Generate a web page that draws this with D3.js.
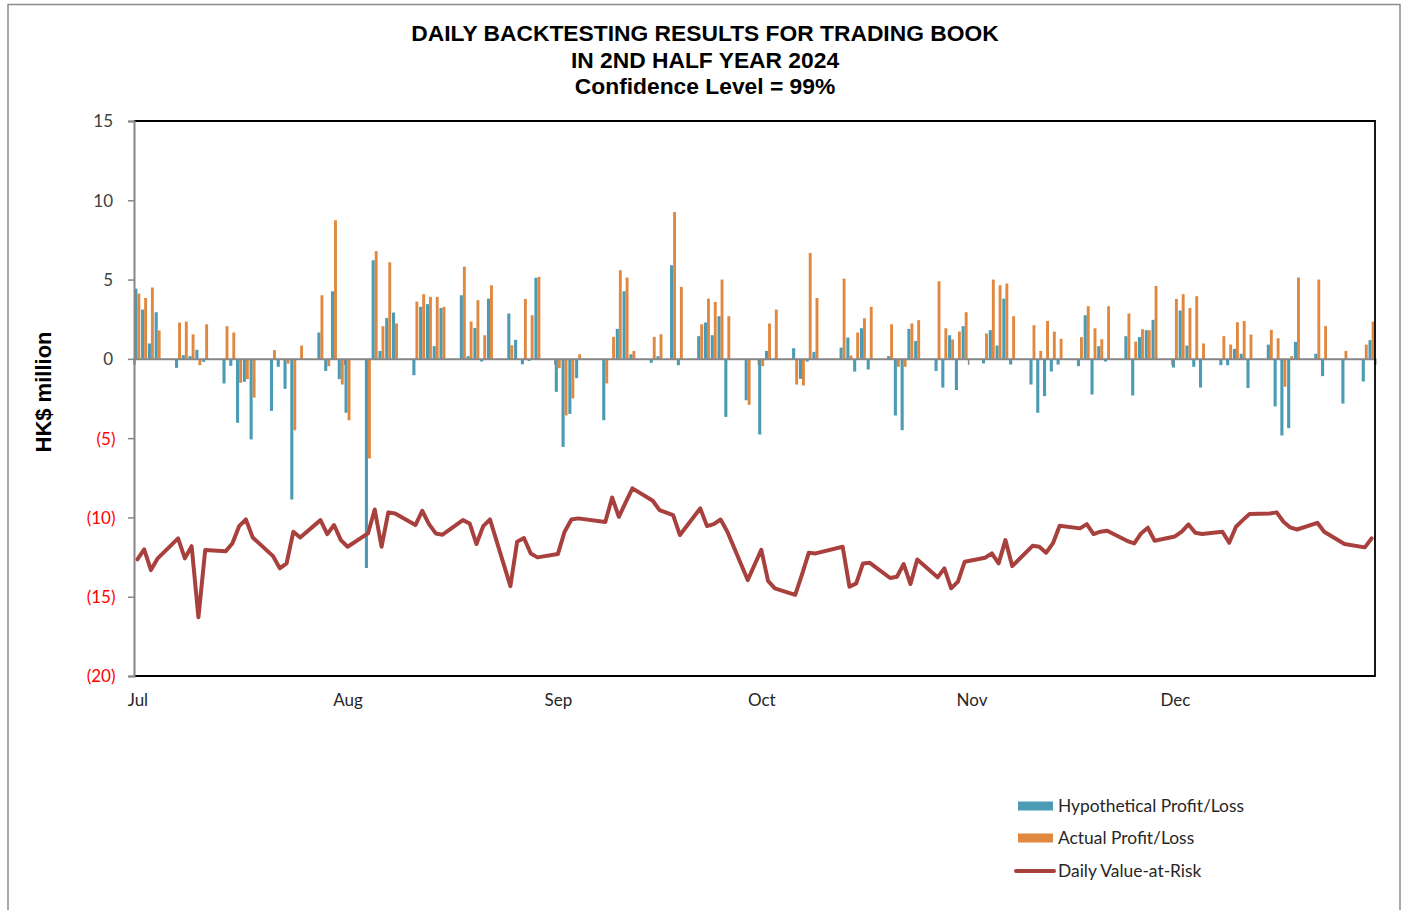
<!DOCTYPE html>
<html>
<head>
<meta charset="utf-8">
<script src="https://cdn.jsdelivr.net/npm/d3@7/dist/d3.min.js"></script>
<style>
  html, body { margin: 0; padding: 0; background: #fff; }
  svg { display: block; }
</style>
</head>
<body>
<svg id="chart" width="1407" height="910"></svg>
<script>
// ---------------- DATA ----------------
const dates = [
  "2024-07-02","2024-07-03","2024-07-04","2024-07-05","2024-07-08","2024-07-09","2024-07-10","2024-07-11","2024-07-12",
  "2024-07-15","2024-07-16","2024-07-17","2024-07-18","2024-07-19","2024-07-22","2024-07-23","2024-07-24","2024-07-25","2024-07-26",
  "2024-07-29","2024-07-30","2024-07-31","2024-08-01","2024-08-02","2024-08-05","2024-08-06","2024-08-07","2024-08-08","2024-08-09",
  "2024-08-12","2024-08-13","2024-08-14","2024-08-15","2024-08-16","2024-08-19","2024-08-20","2024-08-21","2024-08-22","2024-08-23",
  "2024-08-26","2024-08-27","2024-08-28","2024-08-29","2024-08-30","2024-09-02","2024-09-03","2024-09-04","2024-09-05",
  "2024-09-09","2024-09-10","2024-09-11","2024-09-12","2024-09-13","2024-09-16","2024-09-17","2024-09-19","2024-09-20",
  "2024-09-23","2024-09-24","2024-09-25","2024-09-26","2024-09-27","2024-09-30","2024-10-02","2024-10-03","2024-10-04",
  "2024-10-07","2024-10-08","2024-10-09","2024-10-10","2024-10-14","2024-10-15","2024-10-16","2024-10-17","2024-10-18",
  "2024-10-21","2024-10-22","2024-10-23","2024-10-24","2024-10-25","2024-10-28","2024-10-29","2024-10-30","2024-10-31","2024-11-01",
  "2024-11-04","2024-11-05","2024-11-06","2024-11-07","2024-11-08","2024-11-11","2024-11-12","2024-11-13","2024-11-14","2024-11-15",
  "2024-11-18","2024-11-19","2024-11-20","2024-11-21","2024-11-22","2024-11-25","2024-11-26","2024-11-27","2024-11-28","2024-11-29",
  "2024-12-02","2024-12-03","2024-12-04","2024-12-05","2024-12-06","2024-12-09","2024-12-10","2024-12-11","2024-12-12","2024-12-13",
  "2024-12-16","2024-12-17","2024-12-18","2024-12-19","2024-12-20","2024-12-23","2024-12-24","2024-12-27","2024-12-30","2024-12-31"
];
const hypothetical = [
  4.43,3.11,0.97,2.94,-0.57,0.23,0.17,0.57,-0.19,
  -1.55,-0.44,-4.03,-1.45,-5.08,-3.28,-0.50,-1.89,-8.87,0.00,
  1.66,-0.76,4.26,-1.28,-3.40,-13.19,6.22,0.50,2.58,2.92,
  -1.03,3.28,3.45,0.80,3.21,4.01,0.17,1.95,-0.17,3.80,
  2.86,1.20,-0.34,-0.13,5.11,-2.08,-5.55,-3.47,-1.22,
  -3.87,0.00,1.89,4.26,0.29,-0.25,0.17,5.90,-0.40,
  1.43,2.29,1.49,2.69,-3.66,-2.61,-4.77,0.50,0.00,
  0.67,-1.26,-0.17,0.44,0.71,1.34,-0.80,1.93,-0.67,
  0.17,-3.57,-4.50,1.89,1.13,-0.76,-1.81,1.49,-1.97,2.06,
  -0.29,1.81,0.84,3.80,-0.36,-1.62,-3.40,-2.35,-0.80,-0.36,
  -0.46,2.75,-2.25,0.80,-0.17,1.43,-2.31,1.37,1.81,2.46,
  -0.55,3.05,0.84,-0.50,-1.81,-0.40,-0.40,0.63,0.32,-1.83,
  0.90,-3.00,-4.83,-4.37,1.07,0.32,-1.09,-2.82,-1.43,1.18
];
const actual = [
  4.12,3.84,4.50,1.79,2.29,2.35,1.55,-0.40,2.18,
  2.06,1.66,-1.51,-1.28,-2.44,0.55,0.00,-0.30,-4.50,0.84,
  4.01,-0.46,8.74,-1.62,-3.87,-6.28,6.79,2.06,6.09,2.23,
  3.61,4.08,3.91,3.91,3.28,5.82,2.35,3.70,1.49,4.64,
  0.86,0.00,3.78,2.75,5.17,-0.59,-3.57,-2.50,0.29,
  -1.55,1.39,5.59,5.13,0.50,1.39,1.55,9.26,4.54,
  2.18,3.80,3.59,5.00,2.69,-2.90,-0.46,2.23,3.11,
  -1.62,-1.68,6.68,3.84,5.06,0.21,1.66,2.56,3.28,
  2.18,-0.50,-0.50,2.23,2.44,4.89,1.93,1.22,1.72,2.94,
  1.60,5.00,4.64,4.75,2.69,2.12,0.50,2.39,1.72,1.26,
  1.37,3.32,1.93,1.24,3.32,2.86,1.09,1.87,1.81,4.60,
  3.78,4.08,3.21,3.95,0.97,1.43,0.90,2.31,2.39,1.53,
  1.83,1.30,-1.76,0.17,5.13,5.00,2.06,0.50,0.90,2.35
];
const valueAtRisk = [
  -12.65,-12.02,-13.32,-12.58,-11.32,-12.58,-11.81,-16.30,-12.06,
  -12.14,-11.64,-10.55,-10.13,-11.26,-12.44,-13.21,-12.90,-10.90,-11.26,
  -10.17,-11.05,-10.48,-11.43,-11.85,-11.01,-9.50,-11.85,-9.68,-9.75,
  -10.48,-9.58,-10.42,-11.01,-11.09,-10.17,-10.38,-11.68,-10.55,-10.13,
  -14.33,-11.53,-11.30,-12.27,-12.52,-12.31,-10.90,-10.13,-10.06,
  -10.29,-8.74,-9.96,-9.05,-8.17,-8.95,-9.54,-9.85,-11.11,
  -9.43,-10.55,-10.42,-10.13,-10.90,-13.95,-12.04,-14.00,-14.47,
  -14.89,-13.60,-12.23,-12.27,-11.85,-14.37,-14.16,-12.90,-12.86,
  -13.82,-13.74,-12.94,-14.20,-12.65,-13.78,-13.21,-14.47,-14.05,-12.79,
  -12.54,-12.27,-12.90,-11.43,-13.07,-11.79,-11.85,-12.23,-11.64,-10.53,
  -10.69,-10.42,-11.05,-10.90,-10.84,-11.49,-11.64,-11.01,-10.65,-11.47,
  -11.20,-10.90,-10.44,-10.97,-11.05,-10.90,-11.60,-10.59,-10.17,-9.79,
  -9.75,-9.68,-10.27,-10.63,-10.76,-10.34,-10.90,-11.68,-11.89,-11.32
];
const yTicks = [15, 10, 5, 0, -5, -10, -15, -20];
const monthTicks = ["2024-07-02","2024-08-02","2024-09-02","2024-10-02","2024-11-02","2024-12-02"];
const titleLines = ["DAILY BACKTESTING RESULTS FOR TRADING BOOK", "IN 2ND HALF YEAR 2024", "Confidence Level = 99%"];
const seriesNames = ["Hypothetical Profit/Loss", "Actual Profit/Loss", "Daily Value-at-Risk"];

// ---------------- CHART ----------------
const parse = d3.utcParse("%Y-%m-%d");
const data = dates.map((d, i) => ({ date: parse(d), h: hypothetical[i], a: actual[i], v: valueAtRisk[i] }));

const L = 134, R = 1375, T = 121, B = 676;
const colTeal = "#4A9BB3", colOrange = "#E0883F", colVar = "#A8413D";
const tickFont = "Lato, 'Open Sans', sans-serif";

const svg = d3.select("#chart");

// outer border
svg.append("rect").attr("x", 8).attr("y", 4.5).attr("width", 1392).attr("height", 920)
  .attr("fill", "none").attr("stroke", "#8c8c8c").attr("stroke-width", 1.5);

const x = d3.scaleUtc().domain([parse("2024-07-02"), parse("2025-01-01")]).range([L, R]);
const y = d3.scaleLinear().domain([-20, 15]).range([B, T]);
const slot = d => x(d3.utcDay.offset(d, 1)) - x(d);

// title
svg.append("g").selectAll("text").data(titleLines).join("text")
  .attr("x", 705).attr("y", (d, i) => 41 + i * 26.5)
  .attr("text-anchor", "middle")
  .attr("font-family", "'Liberation Sans', Arial, sans-serif")
  .attr("font-weight", "bold").attr("font-size", 22.8).attr("fill", "#000")
  .text(d => d);

// bars
const bars = svg.append("g");
bars.selectAll("rect.h").data(data).join("rect").attr("class", "h")
  .attr("x", d => x(d.date) + 0.3)
  .attr("width", d => slot(d.date) / 2 - 0.3)
  .attr("y", d => y(Math.max(0, d.h)))
  .attr("height", d => Math.abs(y(d.h) - y(0)))
  .attr("fill", colTeal);
bars.selectAll("rect.a").data(data).join("rect").attr("class", "a")
  .attr("x", d => x(d.date) + slot(d.date) / 2)
  .attr("width", d => slot(d.date) / 2 - 0.5)
  .attr("y", d => y(Math.max(0, d.a)))
  .attr("height", d => Math.abs(y(d.a) - y(0)))
  .attr("fill", colOrange);

// zero axis line with month ticks
const zeroAxis = d3.axisBottom(x).tickValues(monthTicks.map(parse)).tickSize(6).tickFormat("");
const gz = svg.append("g").attr("transform", `translate(0,${y(0)})`).call(zeroAxis);
gz.select(".domain").attr("stroke", "#868686").attr("stroke-width", 2);
gz.selectAll(".tick line").attr("stroke", "#868686").attr("stroke-width", 1.5);

// VaR line
const line = d3.line()
  .x(d => x(d.date) + slot(d.date) / 2)
  .y(d => y(d.v));
svg.append("path").datum(data).attr("d", line)
  .attr("fill", "none").attr("stroke", colVar).attr("stroke-width", 4)
  .attr("stroke-linejoin", "round").attr("stroke-linecap", "round");

// plot frame (top, right, bottom black)
svg.append("path")
  .attr("d", `M${L},${T}H${R}V${B}H${L}`)
  .attr("fill", "none").attr("stroke", "#000").attr("stroke-width", 1.8);

// y axis
const yAxis = d3.axisLeft(y).tickValues(yTicks).tickSize(6).tickPadding(15)
  .tickFormat(d => d < 0 ? `(${Math.abs(d)})` : `${d}`);
const gy = svg.append("g").attr("transform", `translate(${L},0)`).call(yAxis);
gy.select(".domain").attr("stroke", "#868686").attr("stroke-width", 2);
gy.selectAll(".tick line").attr("stroke", "#868686").attr("stroke-width", 1.5);
gy.selectAll(".tick text")
  .attr("font-family", tickFont).attr("font-size", 17)
  .attr("fill", d => d < 0 ? "#FF0000" : "#404040")
  .attr("dx", d => d < 0 ? 2.5 : 0)
  .attr("dy", "0.35em");

// x axis labels at bottom
const xAxis = d3.axisBottom(x).tickValues(monthTicks.map(parse)).tickSize(0).tickPadding(18)
  .tickFormat(d3.utcFormat("%b"));
const gx = svg.append("g").attr("transform", `translate(0,${B})`).call(xAxis);
gx.select(".domain").remove();
gx.selectAll(".tick text")
  .attr("font-family", tickFont).attr("font-size", 17).attr("fill", "#262626")
  .attr("dx", d => slot(d) / 2);

// y axis title
svg.append("text")
  .attr("transform", "translate(51,392) rotate(-90)")
  .attr("text-anchor", "middle")
  .attr("font-family", "'Liberation Sans', Arial, sans-serif")
  .attr("font-weight", "bold").attr("font-size", 22).attr("fill", "#000")
  .text("HK$ million");

// legend
const legend = svg.append("g");
const lgY = [806, 838, 871];
legend.selectAll("rect").data([colTeal, colOrange]).join("rect")
  .attr("x", 1018).attr("y", (d, i) => lgY[i] - 4.5).attr("width", 35).attr("height", 9)
  .attr("fill", d => d);
legend.append("line").attr("x1", 1016).attr("x2", 1054).attr("y1", lgY[2]).attr("y2", lgY[2])
  .attr("stroke", colVar).attr("stroke-width", 4).attr("stroke-linecap", "round");
legend.selectAll("text").data(seriesNames).join("text")
  .attr("x", 1058).attr("y", (d, i) => lgY[i]).attr("dy", "0.35em")
  .attr("font-family", tickFont).attr("font-size", 17.4).attr("fill", "#262626")
  .text(d => d);
</script>
</body>
</html>
